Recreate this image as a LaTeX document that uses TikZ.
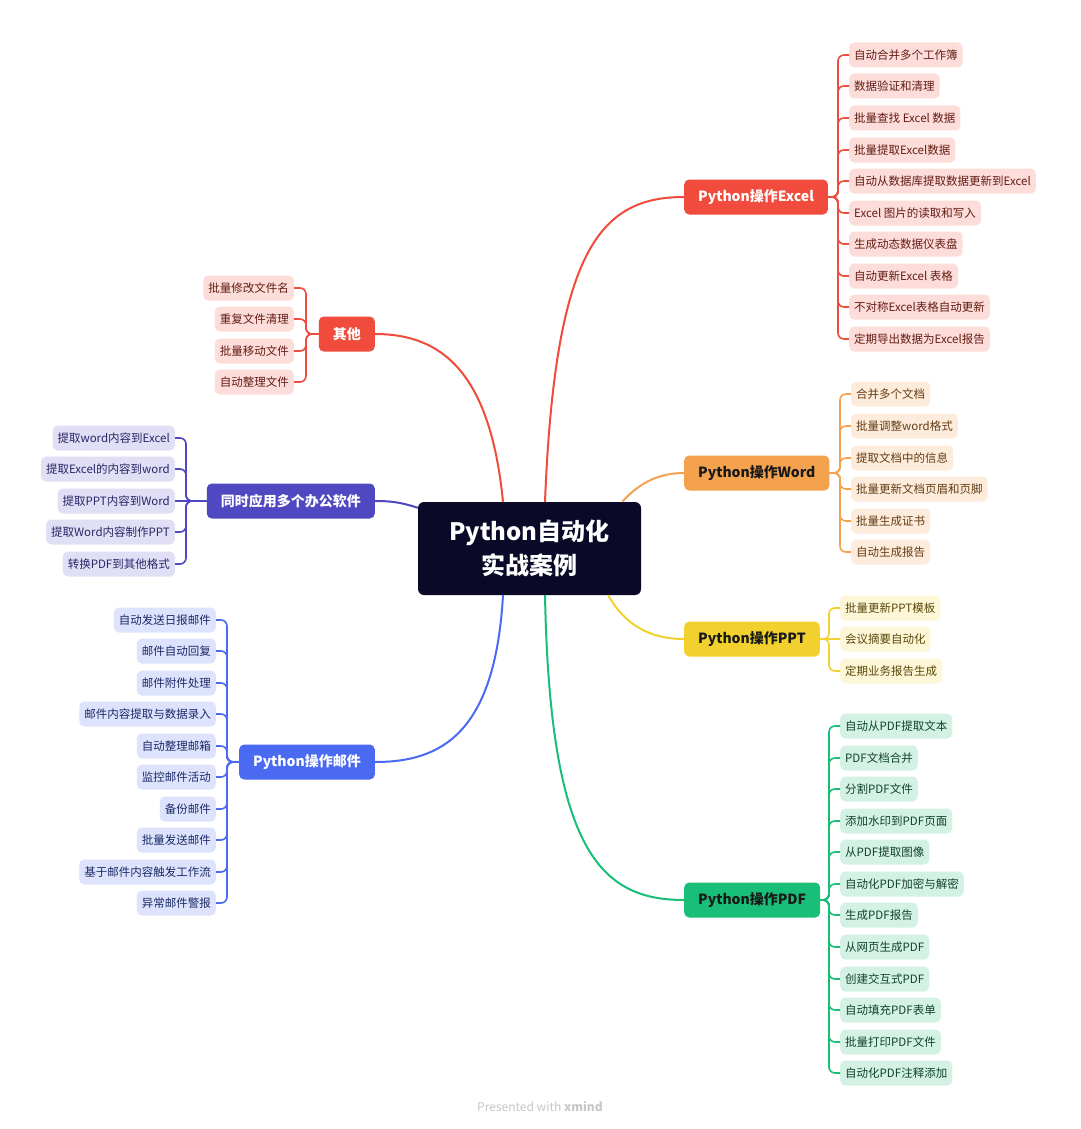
\documentclass[tikz,border=0pt]{standalone}
\usepackage{fontspec}
\setmainfont{Noto Sans CJK SC}
\usetikzlibrary{calc, positioning}

\definecolor{hubfill}{RGB}{10,10,40}
\definecolor{exl}{RGB}{240,75,60}
\definecolor{exlfill}{RGB}{252,221,217}
\definecolor{exltext}{RGB}{100,28,20}
\definecolor{wrd}{RGB}{245,162,79}
\definecolor{wrdfill}{RGB}{253,236,220}
\definecolor{wrdtext}{RGB}{100,60,20}
\definecolor{ppt}{RGB}{242,209,46}
\definecolor{pptfill}{RGB}{253,246,215}
\definecolor{ppttext}{RGB}{90,72,10}
\definecolor{pdf}{RGB}{25,190,121}
\definecolor{pdffill}{RGB}{212,242,228}
\definecolor{pdftext}{RGB}{17,67,43}
\definecolor{mix}{RGB}{80,72,192}
\definecolor{mixfill}{RGB}{225,223,245}
\definecolor{mixtext}{RGB}{42,37,102}
\definecolor{mail}{RGB}{74,106,242}
\definecolor{mailfill}{RGB}{221,227,252}
\definecolor{mailtext}{RGB}{27,42,102}
\definecolor{darktext}{RGB}{25,25,25}

\begin{document}
\begin{tikzpicture}[
    x=1pt, y=-1pt,
    hub/.style={fill=hubfill, rounded corners=6pt, text=white, align=center,
        minimum width=223pt, minimum height=93pt, font=\fontsize{24}{34}\selectfont\bfseries},
    branch/.style={rounded corners=5pt, minimum height=35pt, inner xsep=14pt, inner ysep=0pt,
        font=\fontsize{14}{16}\selectfont\bfseries},
    leaf/.style={rounded corners=5pt, minimum height=25pt, inner xsep=5pt, inner ysep=0pt,
        font=\fontsize{11.5}{13}\selectfont},
    trunk/.style={line width=2pt},
    twig/.style={line width=1.6pt, rounded corners=6pt},
    xleaf/.style={leaf, fill=exlfill, text=exltext, anchor=west},
    wleaf/.style={leaf, fill=wrdfill, text=wrdtext, anchor=west},
    pleaf/.style={leaf, fill=pptfill, text=ppttext, anchor=west},
    dleaf/.style={leaf, fill=pdffill, text=pdftext, anchor=west},
    oleaf/.style={leaf, fill=exlfill, text=exltext, anchor=east},
    mleaf/.style={leaf, fill=mixfill, text=mixtext, anchor=east},
    eleaf/.style={leaf, fill=mailfill, text=mailtext, anchor=east}
]
\useasboundingbox[fill=white] (0,0) rectangle (1080,1129);

% Centre
\node[hub] (root) at (529.5,548.5) {Python自动化\\实战案例};

% Branches
\node[branch, fill=exl, text=white, anchor=west] (xl) at (684,197) {Python操作Excel};
\node[branch, fill=wrd, text=darktext, anchor=west] (wd) at (684,473) {Python操作Word};
\node[branch, fill=ppt, text=darktext, anchor=west] (pp) at (684,639) {Python操作PPT};
\node[branch, fill=pdf, text=darktext, anchor=west] (pd) at (684,900) {Python操作PDF};
\node[branch, fill=exl, text=white, anchor=east] (ot) at (375,334) {其他};
\node[branch, fill=mix, text=white, anchor=east] (mx) at (375,501) {同时应用多个办公软件};
\node[branch, fill=mail, text=white, anchor=east] (em) at (375,762) {Python操作邮件};

% Bracket corners
\coordinate (xlb) at (838,197);
\coordinate (wdb) at (840,473);
\coordinate (ppb) at (829,639);
\coordinate (pdb) at (829,900);
\coordinate (otb) at (306,334);
\coordinate (mxb) at (186,501);
\coordinate (emb) at (227,762);

% Excel leaves
\node[xleaf] (xl1) at (849,55) {自动合并多个工作簿};
\node[xleaf] (xl2) at (849,86) {数据验证和清理};
\node[xleaf] (xl3) at (849,118) {批量查找 Excel 数据};
\node[xleaf] (xl4) at (849,150) {批量提取Excel数据};
\node[xleaf] (xl5) at (849,181) {自动从数据库提取数据更新到Excel};
\node[xleaf] (xl6) at (849,213) {Excel 图片的读取和写入};
\node[xleaf] (xl7) at (849,244) {生成动态数据仪表盘};
\node[xleaf] (xl8) at (849,276) {自动更新Excel 表格};
\node[xleaf] (xl9) at (849,307) {不对称Excel表格自动更新};
\node[xleaf] (xl10) at (849,339) {定期导出数据为Excel报告};

% Word leaves
\node[wleaf] (wd1) at (851,394) {合并多个文档};
\node[wleaf] (wd2) at (851,426) {批量调整word格式};
\node[wleaf] (wd3) at (851,458) {提取文档中的信息};
\node[wleaf] (wd4) at (851,489) {批量更新文档页眉和页脚};
\node[wleaf] (wd5) at (851,521) {批量生成证书};
\node[wleaf] (wd6) at (851,552) {自动生成报告};

% PPT leaves
\node[pleaf] (pp1) at (840,608) {批量更新PPT模板};
\node[pleaf] (pp2) at (840,639) {会议摘要自动化};
\node[pleaf] (pp3) at (840,671) {定期业务报告生成};

% PDF leaves
\node[dleaf] (pd1) at (840,726) {自动从PDF提取文本};
\node[dleaf] (pd2) at (840,758) {PDF文档合并};
\node[dleaf] (pd3) at (840,789) {分割PDF文件};
\node[dleaf] (pd4) at (840,821) {添加水印到PDF页面};
\node[dleaf] (pd5) at (840,852) {从PDF提取图像};
\node[dleaf] (pd6) at (840,884) {自动化PDF加密与解密};
\node[dleaf] (pd7) at (840,915) {生成PDF报告};
\node[dleaf] (pd8) at (840,947) {从网页生成PDF};
\node[dleaf] (pd9) at (840,979) {创建交互式PDF};
\node[dleaf] (pd10) at (840,1010) {自动填充PDF表单};
\node[dleaf] (pd11) at (840,1042) {批量打印PDF文件};
\node[dleaf] (pd12) at (840,1073) {自动化PDF注释添加};

% Other leaves
\node[oleaf] (ot1) at (294,288) {批量修改文件名};
\node[oleaf] (ot2) at (294,319) {重复文件清理};
\node[oleaf] (ot3) at (294,351) {批量移动文件};
\node[oleaf] (ot4) at (294,382) {自动整理文件};

% Office mix leaves
\node[mleaf] (mx1) at (175,438) {提取word内容到Excel};
\node[mleaf] (mx2) at (175,469) {提取Excel的内容到word};
\node[mleaf] (mx3) at (175,501) {提取PPT内容到Word};
\node[mleaf] (mx4) at (175,532) {提取Word内容制作PPT};
\node[mleaf] (mx5) at (175,564) {转换PDF到其他格式};

% Mail leaves
\node[eleaf] (em1) at (216,620) {自动发送日报邮件};
\node[eleaf] (em2) at (216,651) {邮件自动回复};
\node[eleaf] (em3) at (216,683) {邮件附件处理};
\node[eleaf] (em4) at (216,714) {邮件内容提取与数据录入};
\node[eleaf] (em5) at (216,746) {自动整理邮箱};
\node[eleaf] (em6) at (216,777) {监控邮件活动};
\node[eleaf] (em7) at (216,809) {备份邮件};
\node[eleaf] (em8) at (216,840) {批量发送邮件};
\node[eleaf] (em9) at (216,872) {基于邮件内容触发工作流};
\node[eleaf] (em10) at (216,903) {异常邮件警报};

% Trunk curves
\draw[trunk, exl] ($(root.north)+(15.5,0)$) .. controls (555,250) and (600,197) .. (xl.west);
\draw[trunk, wrd] ($(root.north east)+(-19,0)$) .. controls (640,482) and (660,473) .. (wd.west);
\draw[trunk, ppt] ($(root.south east)+(-33,0)$) .. controls (625,625) and (650,639) .. (pp.west);
\draw[trunk, pdf] ($(root.south)+(15.5,0)$) .. controls (550,850) and (600,900) .. (pd.west);
\draw[trunk, exl] ($(root.north)+(-26.5,0)$) .. controls (490,370) and (440,334) .. (ot.east);
\draw[trunk, mix] ($(root.north west)+(0,6)$) .. controls (400,502) and (390,501) .. (mx.east);
\draw[trunk, mail] ($(root.south)+(-26.5,0)$) .. controls (495,735) and (440,762) .. (em.east);

% Twigs
\foreach \i in {1,...,10} \draw[twig, exl] (xl) -- (xlb) |- (xl\i.west);
\foreach \i in {1,...,6} \draw[twig, wrd] (wd) -- (wdb) |- (wd\i.west);
\foreach \i in {1,3} \draw[twig, ppt] (pp) -- (ppb) |- (pp\i.west);
\draw[twig, ppt] (pp) -- (pp2);
\foreach \i in {1,...,12} \draw[twig, pdf] (pd) -- (pdb) |- (pd\i.west);
\foreach \i in {1,...,4} \draw[twig, exl] (ot) -- (otb) |- (ot\i.east);
\foreach \i in {1,2,4,5} \draw[twig, mix] (mx) -- (mxb) |- (mx\i.east);
\draw[twig, mix] (mx) -- (mx3);
\foreach \i in {1,...,10} \draw[twig, mail] (em) -- (emb) |- (em\i.east);

\node[font=\fontsize{12}{14}\selectfont, text=black!22] (mark) at (540,1107) {Presented with \textbf{xmind}};
\end{tikzpicture}
\end{document}
